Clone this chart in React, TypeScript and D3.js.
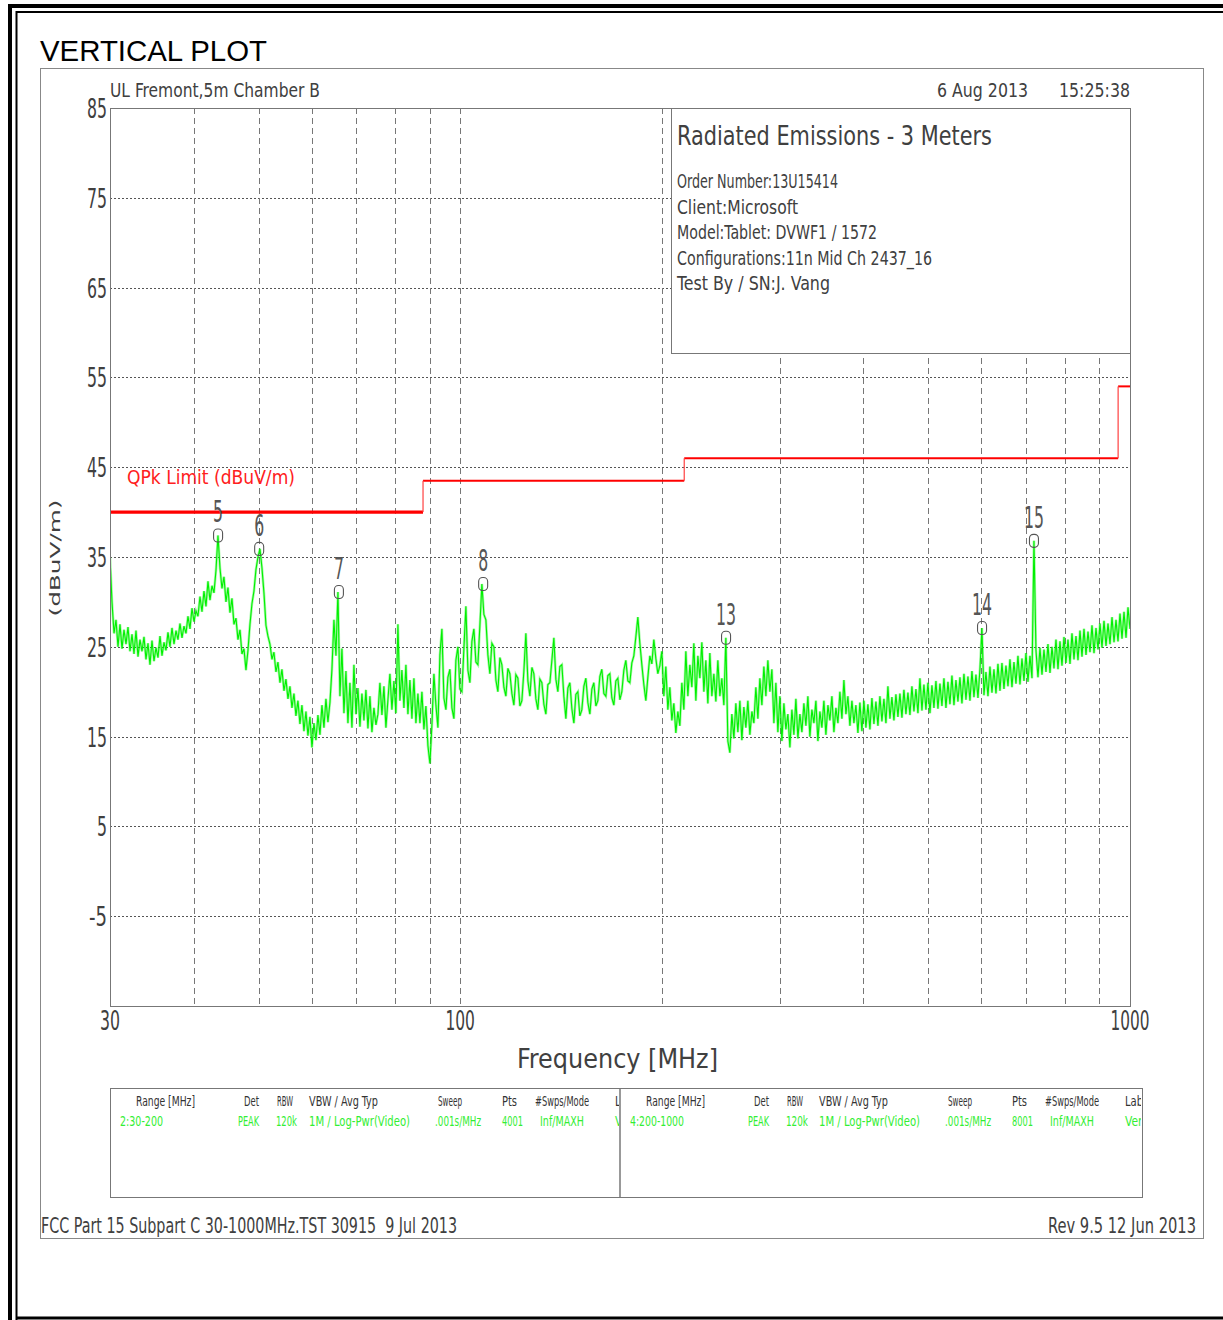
import React from "react";
import * as d3 from "d3";

const W = 1223;
const H = 1320;

// ---------- data ----------
const yTicks = [85, 75, 65, 55, 45, 35, 25, 15, 5, -5];
const xGridMHz = [40, 50, 60, 70, 80, 90, 100, 200, 300, 400, 500, 600, 700, 800, 900];
const xTickLabels = [30, 100, 1000];

const limitStartMHz = [30, 88, 216, 960];
const limitEndMHz = [88, 216, 960, 1000];
const limitLevel = [40, 43.5, 46, 54];

const markerLabel = ["5", "6", "7", "8", "13", "14", "15"];
const markerMHz = [43.5, 50.1, 65.9, 108.2, 249.4, 601.3, 718.8];
const markerLevel = [37.4, 35.9, 31.1, 32.0, 26.0, 27.1, 36.8];

// range 2: 30–200 MHz peak-hold sweep (dBuV/m), log-spaced samples
const range2Start = 30;
const range2Stop = 200;
const range2Level = [
  35, 30, 26.5, 28, 25, 27.5, 24.8, 26.9, 25.3, 27.2,
  24.5, 26.4, 24.2, 26.8, 23.9, 25.8, 24.5, 26.1, 23.6, 25.4,
  23, 25.7, 23.4, 24.9, 23.8, 26.2, 24, 25.5, 24.6, 26.6,
  25, 27.1, 25.3, 26.8, 25.8, 27.6, 26, 27.3, 26.5, 28.4,
  27, 29.3, 27.8, 29, 28.4, 30.6, 28.9, 31.2, 29.5, 32.3,
  30.2, 31.8, 31, 33.5, 37.4, 33.8, 31.5, 32.8, 30, 31.6,
  28.8, 30.4, 27.5, 28.2, 25.8, 26.9, 24.2, 24.8, 22.4, 24.6,
  27.5, 29.8, 31.2, 33.6, 35, 35.9, 33.8, 31, 27.4, 26.2,
  25.3, 23.6, 24.4, 22.2, 23.3, 21, 22.5, 20.1, 21.4, 19.2,
  20.6, 18.2, 19.8, 17.3, 19, 16.4, 18.5, 15.6, 17.8, 15.1,
  17.2, 13.8, 16.5, 14.6, 17.4, 15.2, 18.5, 16, 19.2, 16.6,
  18.8, 22.5, 28, 24, 31.1, 19.5, 24.8, 17.6, 22.3, 16.5,
  21, 16, 23, 17.5, 20.4, 16.1, 19.8, 16.8, 20.2, 15.9,
  19.5, 15.5, 18.2, 16.3, 17.5, 21, 17.4, 20.6, 16, 19.1,
  22, 18, 21.2, 17.6, 27.5, 19, 22.4, 18.2, 23, 17.5,
  21.3, 17, 21.5, 16.5, 19.8, 16.5, 20, 15.8, 18.4, 14,
  12, 16.3, 22, 18.5, 16, 24.1, 27, 19.3, 18, 21.6,
  22.5, 18.2, 17, 23.5, 25, 20.3, 20, 24.8, 29.5, 22.4,
  21, 25.6, 27, 23.3, 23, 27.4, 32, 28.6, 28, 24.1,
  22, 25.4, 25, 21.3, 20, 23.8, 23, 20.5, 19.5, 22.6,
  22, 19.8, 18.5, 21.9, 21.5, 18.4, 19, 22.3, 26.5, 21.2,
  19.5, 22.7, 22, 19.2, 18, 21.4, 21, 18.6, 17.5, 20.8,
  21, 23.5, 26, 21.4, 20, 22.8, 23, 19.5, 17, 20.4,
  21, 18.1, 16.5, 19.7, 20, 17.3, 18, 20.6, 21.5, 18.8,
  17.5, 20.3, 21, 18.4, 19, 21.7, 22.5, 19.8, 19.5, 21.8,
  22, 19.3, 18.5, 21.2, 21.5, 19.1, 20, 22.4, 23.5, 21.2,
  21, 23.2, 24, 26.1, 28.3, 25.4, 23, 20.8, 19, 21.6,
  24, 23.1, 25.8, 23.7, 22, 22.9, 24.5,
];

// range 4: 200–1000 MHz peak-hold sweep (dBuV/m), log-spaced samples
const range4Start = 200;
const range4Stop = 1000;
const range4Level = [
  23.5, 19.5, 22.8, 18, 20.5, 16.8, 18.7, 15.4, 17.8, 16.2,
  21, 18, 24.5, 19.5, 23, 20.5, 25.4, 19, 24, 21.5,
  25.5, 20, 23.5, 18.7, 24.3, 19.5, 22, 18.9, 23.5, 19.5,
  21.5, 18.5, 26.0, 14.5, 13.2, 17.5, 14.8, 18.7, 15.5, 19,
  14.6, 18.3, 16, 19, 15.2, 17.8, 16.5, 20.5, 17, 21.5,
  18.5, 22.8, 19.5, 23.5, 20, 22.5, 16.5, 21, 15.5, 19.5,
  14.5, 18.7, 15.8, 17.5, 13.8, 18, 15.2, 19.2, 14.8, 17.5,
  15.5, 18.7, 16.2, 19.5, 15, 18, 16.5, 19, 14.5, 17.8,
  16, 19, 15.2, 18.5, 16.8, 19.5, 15.5, 18.2, 16.5, 20,
  17, 21.3, 17.5, 19.5, 16.2, 19, 16.5, 18.5, 15.4, 18.8,
  15.6, 19, 16, 18.6, 15.8, 19.3, 16.4, 18.9, 16.2, 19.5,
  16.7, 19.2, 16.5, 20.6, 17, 19.4, 16.8, 19.7, 17.2, 19.8,
  17.1, 20.2, 17.5, 19.9, 17.4, 20.6, 17.8, 20.3, 17.6, 21.5,
  17.9, 20.8, 18, 21, 17.6, 20.7, 18.2, 21.2, 18.1, 20.9,
  18.4, 21.5, 18.2, 21.1, 18.6, 21.8, 18.5, 21.3, 18.9, 21.6,
  18.7, 22, 19.1, 21.7, 19, 22.3, 19.4, 21.9, 19.3, 22.5,
  27.1,
  19.6, 22.2, 19.5, 22.8, 19.9, 22.5, 19.8, 23.1, 20.1,
  23.2, 20.3, 22.9, 20.6, 23.6, 20.5, 23.3, 20.9, 24, 20.8,
  23.7, 21.2, 24.3, 21.1, 24, 21.5,
  36.8,
  24.6, 21.6, 24.9,
  21.9, 24.7, 22.2, 25.3, 22.1, 25, 22.6, 25.8, 22.5, 25.6,
  22.9, 26.1, 23.2, 25.8, 23.1, 26.5, 23.6, 26.2, 23.5, 26.8,
  23.9, 27, 24.1, 26.7, 24.4, 27.4, 24.3, 27.1, 24.7, 27.6,
  24.9, 27.9, 25.1, 27.6, 25.3, 28.3, 25.5, 28, 25.6, 28.7,
  25.9, 28.9, 26, 29.4, 27,
];

const headerLeft = "UL Fremont,5m Chamber B";
const headerDate = "6 Aug 2013";
const headerTime = "15:25:38";
const infoTitle = "Radiated Emissions - 3 Meters";
const infoLines = [
  "Order Number:13U15414",
  "Client:Microsoft",
  "Model:Tablet: DVWF1 / 1572",
  "Configurations:11n Mid Ch 2437_16",
  "Test By / SN:J. Vang",
];
const limitName = "QPk Limit (dBuV/m)";
const yTitle = "(dBuV/m)";
const xTitle = "Frequency [MHz]";
const footerLeft = "FCC Part 15 Subpart C 30-1000MHz.TST 30915  9 Jul 2013";
const footerRight = "Rev 9.5 12 Jun 2013";

const legendHeader = ["Range [MHz]", "Det", "RBW", "VBW / Avg Typ", "Sweep", "Pts", "#Swps/Mode", "Label"];
const legendRange2 = ["2:30-200", "PEAK", "120k", "1M / Log-Pwr(Video)", ".001s/MHz", "4001", "Inf/MAXH", "Vertical"];
const legendRange4 = ["4:200-1000", "PEAK", "120k", "1M / Log-Pwr(Video)", ".001s/MHz", "8001", "Inf/MAXH", "Vertical"];

// ---------- layout ----------
const PL = 110, PR = 1130, PT = 108, PB = 1006;
const FONT = "'Liberation Sans Narrow','DejaVu Sans Condensed','Liberation Sans',sans-serif";
const TXT = "#404040";
const GREEN = "#00f000";
const LGREEN = "#33ee33";

const headerX = [136, 244, 277, 309, 438, 502, 535, 615];
const headerW = [59, 15, 16, 69, 24, 15, 54, 27];
const valueX = [120, 238, 276, 309, 435, 502, 540, 615];
const valueW2 = [43, 21, 21, 101, 46, 21, 44, 40];
const valueW4 = [54, 21, 22, 101, 46, 21, 44, 40];
const infoW = [161, 121, 200, 255, 153];

function T(props: {
  x: number; y: number; size: number; w?: number; fill?: string;
  anchor?: string; font?: string; children: any; transform?: string;
}) {
  const { x, y, size, w, fill = TXT, anchor = "start", font = FONT, children, transform } = props;
  return (
    <text
      x={x}
      y={y}
      fontSize={size}
      fill={fill}
      textAnchor={anchor as any}
      fontFamily={font}
      textLength={w}
      lengthAdjust={w ? "spacingAndGlyphs" : undefined}
      transform={transform}
      style={{ whiteSpace: "pre" }}
    >
      {children}
    </text>
  );
}

export default function App() {
  const x = d3.scaleLog().domain([30, 1000]).range([PL, PR]);
  const y = d3.scaleLinear().domain([-15, 85]).range([PB, PT]);

  const sweep = (levels: number[], f0: number, f1: number): [number, number][] => {
    const s = d3.scaleLog().domain([f0, f1]).range([0, levels.length - 1]);
    return levels.map((v, i) => [s.invert(i), v]);
  };
  const tracePts = [
    ...sweep(range2Level, range2Start, range2Stop),
    ...sweep(range4Level, range4Start, range4Stop).slice(1),
  ];
  const line = d3
    .line<[number, number]>()
    .x((d) => x(d[0]))
    .y((d) => y(d[1]));
  const tracePath = line(tracePts) || "";

  const limitSegs = limitLevel.map((lv, i) => ({
    x1: x(limitStartMHz[i]),
    x2: x(limitEndMHz[i]),
    y: y(lv),
    w: i === 0 ? 3.2 : 2,
  }));

  const legendHalf = (row: string[], widths: number[], dx: number, clip: string) => (
    <g clipPath={`url(#${clip})`}>
      {legendHeader.map((h, i) => (
        <T key={"h" + i} x={headerX[i] + dx} y={1106} size={14} w={headerW[i]} fill="#333">
          {h}
        </T>
      ))}
      {row.map((v, i) => (
        <T key={"v" + i} x={valueX[i] + dx} y={1126} size={14} w={widths[i]} fill={LGREEN}>
          {v}
        </T>
      ))}
    </g>
  );

  return (
    <svg
      width={W}
      height={H}
      viewBox={`0 0 ${W} ${H}`}
      style={{ position: "absolute", left: 0, top: 0, display: "block", background: "#fff" }}
    >
      <defs>
        <clipPath id="clipL">
          <rect x={111} y={1089} width={508} height={107} />
        </clipPath>
        <clipPath id="clipR">
          <rect x={621} y={1089} width={520} height={107} />
        </clipPath>
        <clipPath id="plotClip">
          <rect x={PL} y={PT} width={PR - PL + 1} height={PB - PT} />
        </clipPath>
      </defs>
      <rect x={0} y={0} width={W} height={H} fill="#fff" />

      {/* outer page frames */}
      <path d={`M10,${H + 5} V6 H${W + 5}`} fill="none" stroke="#000" strokeWidth={4} />
      <path d={`M16.5,${H + 5} V12 H${W + 5}`} fill="none" stroke="#000" strokeWidth={2} />
      <path d={`M16.5,1318 H${W + 5}`} fill="none" stroke="#000" strokeWidth={3} />

      <T x={40} y={61} size={30} w={227} fill="#000" font="'Liberation Sans',Arial,sans-serif">
        VERTICAL PLOT
      </T>

      {/* chart frame */}
      <rect x={40.5} y={68.5} width={1163} height={1170} fill="none" stroke="#888" strokeWidth={1} />

      {/* header texts */}
      <T x={110} y={97} size={20} w={210}>{headerLeft}</T>
      <T x={937} y={97} size={20} w={91}>{headerDate}</T>
      <T x={1059} y={97} size={20} w={71}>{headerTime}</T>

      {/* grid */}
      <g shapeRendering="crispEdges">
        {yTicks.slice(1).map((t) => (
          <line
            key={"hy" + t}
            x1={PL}
            x2={PR}
            y1={Math.round(y(t)) + 0.5}
            y2={Math.round(y(t)) + 0.5}
            stroke="#555"
            strokeDasharray="2 2"
          />
        ))}
        {xGridMHz.map((f) => (
          <line
            key={"vx" + f}
            x1={Math.round(x(f)) + 0.5}
            x2={Math.round(x(f)) + 0.5}
            y1={PT}
            y2={PB}
            stroke="#777"
            strokeDasharray="6 4"
          />
        ))}
      </g>

      {/* y tick labels */}
      {yTicks.map((t) => {
        const s = String(t);
        return (
          <T key={"yl" + t} x={107} y={y(t) + 10} size={27} anchor="end" w={s.length * 10 - (s[0] === "-" ? 2 : 0)}>
            {s}
          </T>
        );
      })}

      {/* x tick labels */}
      {xTickLabels.map((f) => {
        const s = String(f);
        return (
          <T key={"xl" + f} x={x(f)} y={1030} size={27} anchor="middle" w={s.length * 9.5 + 1}>
            {s}
          </T>
        );
      })}

      <T x={517} y={1068} size={26} w={201}>{xTitle}</T>
      <T x={0} y={0} size={14} w={117} anchor="middle" transform="translate(60,558) rotate(-90)">
        {yTitle}
      </T>

      {/* limit line */}
      <g>
        {limitSegs.map((s, i) => (
          <line key={"lim" + i} x1={s.x1} x2={s.x2} y1={s.y} y2={s.y} stroke="#ff0000" strokeWidth={s.w} />
        ))}
        {limitSegs.slice(1).map((s, i) => (
          <line
            key={"limv" + i}
            x1={s.x1}
            x2={s.x1}
            y1={limitSegs[i].y}
            y2={s.y}
            stroke="#ff4040"
            strokeWidth={1.2}
          />
        ))}
      </g>
      <T x={127} y={484} size={20} w={168} fill="#ff2020">{limitName}</T>

      {/* trace */}
      <g clipPath="url(#plotClip)">
        <path d={tracePath} fill="none" stroke={GREEN} strokeOpacity={0.35} strokeWidth={2.6} strokeLinejoin="miter" />
        <path d={tracePath} fill="none" stroke={GREEN} strokeWidth={1.1} strokeLinejoin="miter" />
      </g>

      {/* markers */}
      {markerLabel.map((m, i) => {
        const cx = x(markerMHz[i]);
        const cy = y(markerLevel[i]);
        return (
          <g key={"mk" + m}>
            <rect x={cx - 4.5} y={cy - 6.5} width={9} height={13} rx={4} fill="none" stroke="#555" strokeWidth={1.1} />
            <T x={cx} y={cy - 13} size={30} anchor="middle" w={m.length * 10} fill="#555">
              {m}
            </T>
          </g>
        );
      })}

      {/* info box */}
      <rect x={671.5} y={108.5} width={459} height={245} fill="#fff" stroke="#777" strokeWidth={1} />
      <T x={677} y={145} size={27} w={315}>{infoTitle}</T>
      {infoLines.map((l, i) => (
        <T key={"inf" + i} x={677} y={188 + i * 25.5} size={20} w={infoW[i]}>
          {l}
        </T>
      ))}

      {/* plot border */}
      <rect
        x={PL + 0.5}
        y={PT + 0.5}
        width={PR - PL}
        height={PB - PT}
        fill="none"
        stroke="#777"
        strokeWidth={1}
        shapeRendering="crispEdges"
      />

      {/* legend table */}
      <rect x={110.5} y={1088.5} width={1032} height={109} fill="none" stroke="#777" strokeWidth={1} />
      <line x1={620} x2={620} y1={1089} y2={1197} stroke="#999" strokeWidth={2} />
      {legendHalf(legendRange2, valueW2, 0, "clipL")}
      {legendHalf(legendRange4, valueW4, 510, "clipR")}

      {/* footer */}
      <T x={41} y={1233} size={22} w={416}>{footerLeft}</T>
      <T x={1048} y={1233} size={22} w={148}>{footerRight}</T>
    </svg>
  );
}
